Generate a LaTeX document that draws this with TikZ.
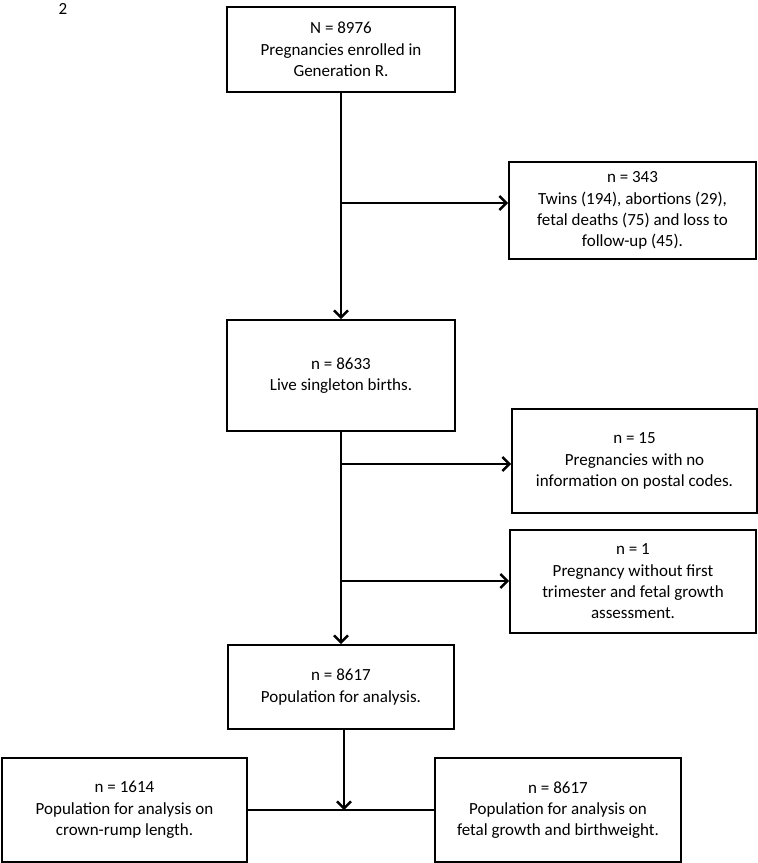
\documentclass[tikz,border=0pt]{standalone}
\usepackage{fontspec}
\setmainfont{Carlito}
\usetikzlibrary{arrows.meta}

\begin{document}
\begin{tikzpicture}[x=1pt, y=-1pt,
    >={Straight Barb[length=7pt,width=14pt]},
    every node/.style={font=\fontsize{17}{21.3}\selectfont},
    box/.style={draw, line width=1.8pt, align=center, inner sep=0pt},
    link/.style={->, line width=2.4pt}]

    \useasboundingbox (0,0) rectangle (758,863);

    \node (pagenum) at (63,9) {2};

    % main column
    \node[box, minimum width=228pt, minimum height=85pt] (enrolled) at (341,49.5)
      {N = 8976\\Pregnancies enrolled in\\Generation R.};
    \node[box, minimum width=228pt, minimum height=111pt] (live) at (341,375.5)
      {n = 8633\\Live singleton births.};
    \node[box, minimum width=226pt, minimum height=84pt] (analysis) at (341,687)
      {n = 8617\\Population for analysis.};

    % exclusions on the right
    \node[box, minimum width=247pt, minimum height=97pt] (lost) at (632.5,210.5)
      {n = 343\\Twins (194), abortions (29),\\fetal deaths (75) and loss to\\follow-up (45).};
    \node[box, minimum width=245pt, minimum height=104pt] (postal) at (634.5,461)
      {n = 15\\Pregnancies with no\\information on postal codes.};
    \node[box, minimum width=246pt, minimum height=103pt] (noscan) at (633,581.5)
      {n = 1\\Pregnancy without first\\trimester and fetal growth\\assessment.};

    % two sub-populations
    \node[box, minimum width=245pt, minimum height=104pt] (crl) at (124.5,810)
      {n = 1614\\Population for analysis on\\crown-rump length.};
    \node[box, minimum width=246pt, minimum height=104pt] (growth) at (558,810)
      {n = 8617\\Population for analysis on\\fetal growth and birthweight.};

    \coordinate (split1) at (341,203);
    \coordinate (split2) at (341,464);
    \coordinate (split3) at (341,581);
    \coordinate (join) at ([xshift=3pt]analysis.south |- crl.east);

    \draw[link] (enrolled.south) -- (live.north);
    \draw[link] (live.south) -- (analysis.north);
    \draw[link] (split1) -- (split1 -| lost.west);
    \draw[link] (split2) -- (split2 -| postal.west);
    \draw[link] (split3) -- (split3 -| noscan.west);

    \draw[line width=2.4pt] (crl.east) -- (growth.west);
    \draw[link] ([xshift=3pt]analysis.south) -- (join);

\end{tikzpicture}
\end{document}
